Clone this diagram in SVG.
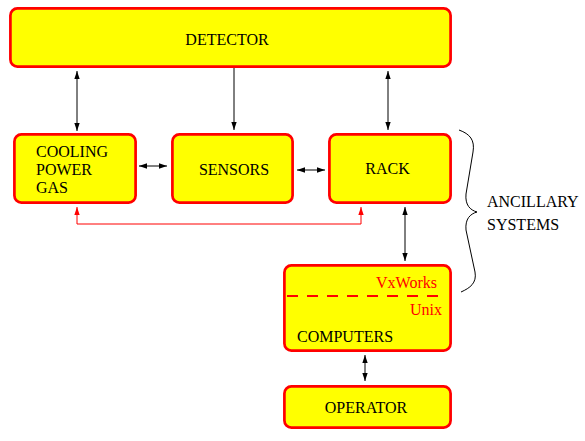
<svg xmlns="http://www.w3.org/2000/svg" width="585" height="441" viewBox="0 0 585 441">
<style>
.box{fill:#ffff00;stroke:#ff0000;stroke-width:2.7}
.t{font-family:"Liberation Serif","Times New Roman",serif;font-size:16px;fill:#000}
.r{fill:#ff0000}
.c{fill:none;stroke:#000;stroke-width:1}
.cr{fill:none;stroke:#ff0000;stroke-width:1}
</style>
<defs>
<marker id="ah" markerUnits="userSpaceOnUse" markerWidth="8" markerHeight="8" refX="6" refY="3" orient="auto-start-reverse" viewBox="0 0 6 6">
<path d="M0,1 L6,3 L0,5 Z" fill="#000"/>
</marker>
<marker id="ahr" markerUnits="userSpaceOnUse" markerWidth="8" markerHeight="8" refX="6" refY="3" orient="auto-start-reverse" viewBox="0 0 6 6">
<path d="M0,1 L6,3 L0,5 Z" fill="#ff0000"/>
</marker>
</defs>
<rect width="585" height="441" fill="#fff"/>
<g id="connectors">
<line class="c" x1="77" y1="71" x2="77" y2="131" marker-start="url(#ah)" marker-end="url(#ah)"/>
<line class="c" x1="234" y1="68" x2="234" y2="130" marker-end="url(#ah)"/>
<line class="c" x1="388" y1="71" x2="388" y2="130" marker-start="url(#ah)" marker-end="url(#ah)"/>
<line class="c" x1="139" y1="166" x2="167" y2="166" marker-start="url(#ah)" marker-end="url(#ah)"/>
<line class="c" x1="297" y1="170" x2="325" y2="170" marker-start="url(#ah)" marker-end="url(#ah)"/>
<line class="c" x1="405" y1="207" x2="405" y2="261" marker-start="url(#ah)" marker-end="url(#ah)"/>
<line class="c" x1="365" y1="355" x2="365" y2="381" marker-start="url(#ah)" marker-end="url(#ah)"/>
<path class="cr" d="M77,207 V224 H361 V207" marker-start="url(#ahr)" marker-end="url(#ahr)"/>
<path class="c" d="M459,130 C470,134 475,140 473,152 L466,194 C465,205 470,210 477,212 C470,214 465,219 466,230 L475,272 C477,283 470,288 461,292"/>
</g>
<g id="detector">
<rect class="box" x="10.4" y="8.4" width="440.2" height="58.2" rx="7"/>
<text class="t" x="227" y="45" text-anchor="middle">DETECTOR</text>
</g>
<g id="cooling">
<rect class="box" x="14.4" y="134.4" width="121.2" height="68.2" rx="7"/>
<text class="t" x="36" y="157">COOLING</text>
<text class="t" x="36" y="175">POWER</text>
<text class="t" x="36" y="193">GAS</text>
</g>
<g id="sensors">
<rect class="box" x="172.4" y="134.4" width="120.2" height="68.2" rx="7"/>
<text class="t" x="234" y="175" text-anchor="middle">SENSORS</text>
</g>
<g id="rack">
<rect class="box" x="329.4" y="134.4" width="121.2" height="68.2" rx="7"/>
<text class="t" x="387.5" y="174" text-anchor="middle">RACK</text>
</g>
<g id="computers">
<rect class="box" x="284.4" y="265.4" width="166.2" height="85.2" rx="7"/>
<text class="t r" x="437" y="287.5" text-anchor="end">VxWorks</text>
<line x1="287" y1="296" x2="446" y2="296" stroke="#ff0000" stroke-width="2" stroke-dasharray="11,9"/>
<text class="t r" x="442" y="315" text-anchor="end">Unix</text>
<text class="t" x="297" y="342">COMPUTERS</text>
</g>
<g id="operator">
<rect class="box" x="284.4" y="386.4" width="166.2" height="41.2" rx="7"/>
<text class="t" x="366" y="413" text-anchor="middle">OPERATOR</text>
</g>
<g id="ancillary">
<text class="t" x="487" y="207">ANCILLARY</text>
<text class="t" x="487" y="230">SYSTEMS</text>
</g>
</svg>
